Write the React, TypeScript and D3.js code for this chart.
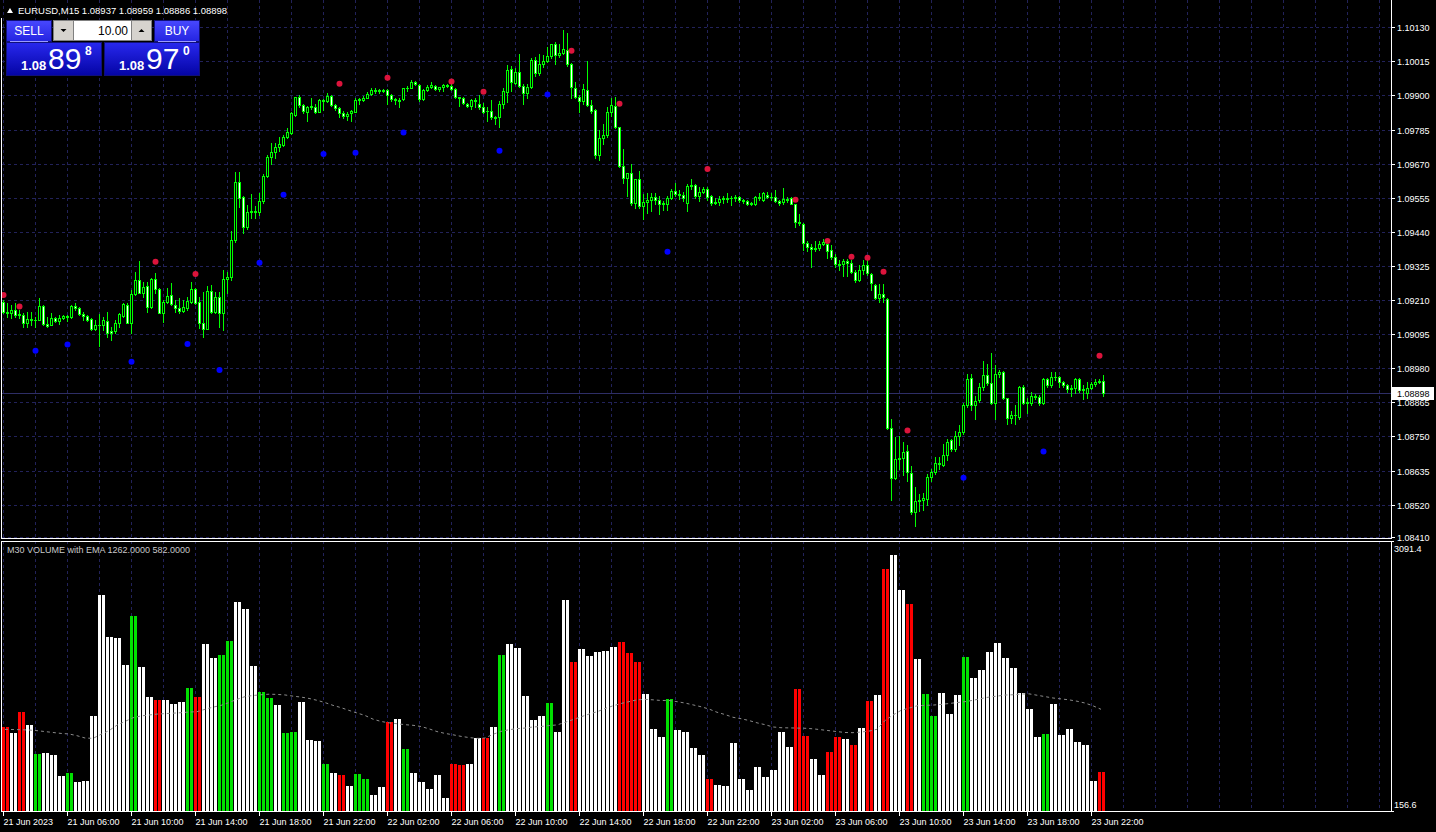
import React, { useRef, useEffect } from "react";
import * as d3 from "d3";

const W = 1436;
const H = 832;
const BASE = 1.08; // candle values are points (0.00001) above 1.08000

const opens = [
  1205, 1171, 1166, 1177, 1160, 1160, 1134, 1146, 1143, 1143, 1190, 1129, 1126, 1149, 1140, 1149, 1156, 1152, 1190, 1182,
  1163, 1158, 1146, 1113, 1126, 1126, 1140, 1106, 1106, 1132, 1156, 1194, 1134, 1231, 1278, 1233, 1258, 1188, 1280, 1246,
  1168, 1204, 1226, 1194, 1185, 1174, 1182, 1205, 1246, 1203, 1134, 1113, 1242, 1169, 1222, 1168, 1280, 1287, 1413, 1607,
  1556, 1458, 1506, 1511, 1508, 1543, 1629, 1694, 1708, 1725, 1733, 1759, 1775, 1834, 1894, 1868, 1846, 1860, 1860, 1846,
  1884, 1880, 1898, 1868, 1857, 1842, 1832, 1840, 1846, 1885, 1885, 1893, 1905, 1917, 1916, 1915, 1918, 1900, 1887, 1885,
  1887, 1924, 1926, 1944, 1935, 1888, 1918, 1930, 1933, 1923, 1928, 1935, 1932, 1922, 1894, 1893, 1873, 1866, 1884, 1873,
  1860, 1848, 1848, 1828, 1826, 1873, 1913, 1988, 1943, 1978, 1933, 1907, 1930, 2021, 1975, 2005, 2017, 2033, 2072, 2035,
  2042, 2055, 2005, 1925, 1894, 1882, 1918, 1868, 1851, 1699, 1755, 1768, 1845, 1865, 1793, 1662, 1623, 1640, 1537, 1617,
  1528, 1541, 1546, 1556, 1549, 1533, 1535, 1553, 1578, 1567, 1565, 1539, 1595, 1597, 1562, 1575, 1584, 1561, 1540, 1540,
  1551, 1550, 1554, 1553, 1556, 1548, 1545, 1537, 1533, 1558, 1548, 1565, 1557, 1556, 1545, 1540, 1552, 1553, 1533, 1475,
  1468, 1404, 1390, 1383, 1387, 1399, 1400, 1380, 1357, 1330, 1333, 1342, 1334, 1306, 1278, 1310, 1330, 1297, 1260, 1216,
  1232, 1214, 778, 609, 673, 678, 702, 626, 496, 534, 536, 538, 612, 631, 661, 654, 688, 738, 707, 752,
  766, 856, 946, 857, 873, 916, 957, 929, 864, 960, 966, 879, 811, 822, 817, 918, 864, 864, 887, 884,
  862, 943, 924, 949, 950, 933, 925, 910, 915, 943, 907, 895, 912, 927, 935, 937,
];
const highs = [
  1210, 1199, 1194, 1199, 1175, 1165, 1171, 1171, 1154, 1216, 1192, 1154, 1165, 1154, 1160, 1160, 1160, 1194, 1199, 1186,
  1171, 1160, 1149, 1143, 1163, 1154, 1171, 1120, 1143, 1165, 1199, 1199, 1244, 1306, 1342, 1272, 1272, 1283, 1300, 1250,
  1210, 1250, 1267, 1211, 1216, 1210, 1222, 1272, 1250, 1222, 1238, 1258, 1261, 1238, 1238, 1312, 1306, 1444, 1641, 1641,
  1560, 1531, 1568, 1526, 1570, 1636, 1700, 1740, 1740, 1760, 1766, 1792, 1845, 1896, 1900, 1870, 1866, 1891, 1870, 1889,
  1889, 1908, 1900, 1873, 1860, 1848, 1843, 1852, 1890, 1890, 1897, 1912, 1925, 1924, 1922, 1922, 1922, 1905, 1892, 1890,
  1926, 1933, 1952, 1950, 1938, 1922, 1935, 1946, 1935, 1930, 1940, 1938, 1945, 1924, 1895, 1894, 1876, 1887, 1890, 1902,
  1875, 1860, 1885, 1832, 1880, 1925, 2003, 1998, 1992, 2040, 1940, 1940, 2025, 2030, 2040, 2037, 2063, 2075, 2080, 2073,
  2121, 2110, 2010, 1945, 1900, 1940, 2015, 1885, 1855, 1782, 1805, 1860, 1890, 1895, 1795, 1720, 1640, 1668, 1620, 1645,
  1568, 1570, 1570, 1570, 1560, 1545, 1560, 1585, 1605, 1580, 1575, 1600, 1618, 1600, 1590, 1590, 1590, 1565, 1555, 1560,
  1560, 1570, 1562, 1566, 1562, 1550, 1548, 1540, 1560, 1570, 1575, 1575, 1570, 1580, 1548, 1588, 1556, 1556, 1535, 1500,
  1470, 1410, 1400, 1410, 1410, 1415, 1408, 1395, 1365, 1345, 1348, 1350, 1345, 1310, 1330, 1345, 1345, 1300, 1265, 1265,
  1263, 1218, 808, 748, 750, 733, 720, 650, 578, 555, 558, 625, 640, 680, 680, 725, 740, 742, 770, 790,
  862, 960, 960, 885, 930, 1003, 995, 1030, 990, 975, 970, 880, 835, 855, 920, 925, 880, 900, 893, 890,
  947, 948, 967, 967, 955, 936, 928, 922, 947, 948, 925, 935, 935, 945, 945, 959,
];
const lows = [
  1165, 1154, 1149, 1154, 1150, 1118, 1120, 1126, 1120, 1143, 1126, 1120, 1126, 1135, 1129, 1145, 1140, 1148, 1177, 1160,
  1143, 1140, 1109, 1109, 1055, 1109, 1087, 1076, 1098, 1120, 1154, 1132, 1098, 1227, 1233, 1222, 1171, 1182, 1233, 1165,
  1137, 1199, 1194, 1171, 1165, 1171, 1177, 1199, 1197, 1115, 1084, 1111, 1165, 1165, 1120, 1109, 1233, 1278, 1405, 1525,
  1435, 1449, 1488, 1486, 1498, 1537, 1625, 1670, 1690, 1712, 1730, 1755, 1770, 1830, 1860, 1842, 1815, 1855, 1840, 1843,
  1850, 1877, 1866, 1852, 1828, 1823, 1818, 1815, 1843, 1870, 1880, 1890, 1903, 1908, 1910, 1912, 1873, 1882, 1870, 1862,
  1885, 1915, 1924, 1935, 1883, 1885, 1915, 1926, 1920, 1915, 1915, 1928, 1918, 1890, 1866, 1870, 1860, 1855, 1860, 1855,
  1840, 1815, 1820, 1804, 1795, 1858, 1877, 1916, 1938, 1930, 1873, 1890, 1925, 1965, 1970, 1995, 2012, 2025, 2005, 2030,
  2040, 2000, 1893, 1890, 1846, 1872, 1865, 1840, 1688, 1682, 1735, 1760, 1830, 1790, 1660, 1605, 1560, 1530, 1520, 1520,
  1485, 1505, 1510, 1535, 1500, 1515, 1515, 1550, 1560, 1550, 1545, 1510, 1585, 1555, 1545, 1570, 1548, 1530, 1535, 1530,
  1538, 1540, 1530, 1545, 1540, 1536, 1530, 1530, 1530, 1548, 1545, 1555, 1548, 1542, 1532, 1535, 1540, 1533, 1458, 1462,
  1378, 1375, 1322, 1375, 1380, 1395, 1352, 1350, 1320, 1310, 1292, 1292, 1300, 1270, 1275, 1298, 1295, 1245, 1212, 1205,
  1205, 775, 536, 605, 640, 620, 600, 490, 448, 500, 503, 518, 600, 625, 640, 650, 670, 700, 700, 720,
  760, 850, 840, 810, 865, 908, 925, 860, 810, 950, 875, 793, 795, 793, 810, 860, 830, 855, 878, 856,
  860, 918, 918, 940, 918, 918, 900, 888, 895, 900, 877, 880, 910, 920, 930, 886,
];
const closes = [
  1171, 1166, 1177, 1160, 1163, 1134, 1146, 1143, 1144, 1190, 1129, 1123, 1149, 1140, 1149, 1156, 1152, 1190, 1182, 1163,
  1156, 1143, 1111, 1126, 1126, 1143, 1100, 1098, 1132, 1162, 1197, 1134, 1231, 1278, 1233, 1253, 1188, 1280, 1246, 1168,
  1204, 1224, 1196, 1185, 1174, 1188, 1208, 1246, 1199, 1134, 1113, 1242, 1169, 1219, 1168, 1280, 1287, 1413, 1607, 1553,
  1455, 1506, 1511, 1508, 1543, 1629, 1694, 1708, 1725, 1735, 1759, 1778, 1840, 1894, 1868, 1849, 1860, 1864, 1846, 1884,
  1880, 1898, 1868, 1857, 1842, 1832, 1839, 1848, 1885, 1888, 1893, 1905, 1917, 1916, 1917, 1918, 1900, 1887, 1885, 1880,
  1924, 1926, 1944, 1938, 1888, 1918, 1930, 1935, 1923, 1927, 1935, 1932, 1922, 1894, 1893, 1875, 1866, 1884, 1880, 1860,
  1845, 1848, 1828, 1825, 1873, 1916, 1986, 1946, 1978, 1933, 1907, 1930, 2021, 1975, 2005, 2017, 2033, 2072, 2035, 2042,
  2058, 2005, 1928, 1894, 1880, 1922, 1868, 1849, 1699, 1755, 1768, 1845, 1868, 1793, 1662, 1623, 1637, 1537, 1617, 1528,
  1541, 1546, 1556, 1549, 1533, 1536, 1553, 1578, 1567, 1565, 1554, 1595, 1597, 1562, 1575, 1584, 1559, 1536, 1539, 1550,
  1554, 1554, 1555, 1556, 1548, 1545, 1535, 1533, 1558, 1553, 1570, 1557, 1556, 1545, 1538, 1552, 1548, 1535, 1475, 1470,
  1404, 1390, 1383, 1387, 1399, 1405, 1377, 1357, 1331, 1333, 1342, 1334, 1306, 1278, 1310, 1328, 1300, 1267, 1216, 1232,
  1222, 778, 609, 673, 678, 698, 629, 496, 534, 536, 541, 612, 629, 661, 656, 688, 733, 707, 752, 764,
  856, 944, 857, 868, 916, 957, 929, 864, 960, 966, 879, 811, 822, 822, 918, 864, 867, 887, 884, 862,
  943, 924, 949, 950, 933, 925, 910, 915, 943, 907, 911, 912, 927, 935, 938, 898,
];

// M30 dots (bar index on the M15 chart, price in points above 1.08000)
const redDotBars = [0, 4, 38, 48, 84, 96, 112, 120, 142, 154, 176, 198, 206, 212, 216, 220, 226, 274];
const redDotPts = [1227, 1188, 1339, 1298, 1940, 1960, 1947, 1913, 2051, 1872, 1652, 1548, 1409, 1356, 1353, 1306, 770, 1022];
const blueDotBars = [8, 16, 32, 46, 54, 64, 70, 80, 88, 100, 124, 136, 166, 240, 260];
const blueDotPts = [1039, 1060, 1002, 1062, 974, 1336, 1565, 1703, 1707, 1775, 1714, 1903, 1373, 611, 699];

const priceTicks = [
  1.1013, 1.10015, 1.099, 1.09785, 1.0967, 1.09555, 1.0944, 1.09325, 1.0921, 1.09095, 1.0898, 1.08865, 1.0875,
  1.08635, 1.0852, 1.0841,
];
const timeLabels = [
  "21 Jun 2023", "21 Jun 06:00", "21 Jun 10:00", "21 Jun 14:00", "21 Jun 18:00", "21 Jun 22:00",
  "22 Jun 02:00", "22 Jun 06:00", "22 Jun 10:00", "22 Jun 14:00", "22 Jun 18:00", "22 Jun 22:00",
  "23 Jun 02:00", "23 Jun 06:00", "23 Jun 10:00", "23 Jun 14:00", "23 Jun 18:00", "23 Jun 22:00",
];

// M30 volume, one value per pair of M15 bars
const volumes = [
  1066, 1008, 1233, 1091, 776, 787, 765, 537, 570, 472, 483, 1189, 2504, 2048, 2037, 1743, 2276, 1722, 1396, 1363,
  1363, 1320, 1341, 1493, 1396, 1972, 1819, 1852, 2004, 2428, 2352, 1733, 1450, 1385, 1309, 1004, 1015, 1341, 928, 917,
  667, 570, 548, 428, 559, 504, 330, 417, 1124, 1157, 830, 570, 472, 396, 548, 298, 667, 657, 667, 950,
  950, 1070, 1852, 1972, 1928, 1406, 1146, 1189, 1327, 1015, 2450, 1776, 1917, 1841, 1885, 1896, 1939, 1993, 1874, 1776,
  1428, 1048, 961, 1374, 1037, 1015, 841, 765, 504, 439, 428, 896, 504, 385, 635, 526, 602, 1015, 852, 1483,
  972, 722, 548, 798, 961, 939, 874, 1059, 1352, 1417, 2787, 2939, 2559, 2406, 1809, 1428, 1189, 1439, 1211, 1417,
  1830, 1602, 1689, 1885, 1983, 1819, 1711, 1439, 1265, 961, 993, 1320, 982, 1048, 907, 874, 483, 582,
];
const volKinds = (
  "rwrwgwwwgw" + "wwwwwwgwwr" + "wwwgrwwggw" + "wwggwggwww" + "gwrwggwwrw" + "gwwwwwrrww" + "rwgwwwwwgw" +
  "wrwwwwwrrr" + "wwwgwwwwrw" + "wwwwwwwwwr" + "rwwrrwrwrw" + "rwwrwggwww" + "gwwwwwwwww" + "gwwwwwwr"
).split("");
const volEma = [
  1044, 1042, 1040, 1037, 1030, 1020, 1010, 1000, 994, 975, 950, 946, 990, 1030, 1090, 1130, 1170, 1190, 1200, 1210,
  1215, 1220, 1225, 1232, 1236, 1262, 1285, 1305, 1335, 1370, 1400, 1412, 1420, 1426, 1424, 1418, 1405, 1395, 1380, 1360,
  1335, 1305, 1280, 1250, 1222, 1195, 1155, 1130, 1115, 1105, 1095, 1088, 1075, 1050, 1020, 1000, 985, 968, 955, 946,
  950, 990, 1022, 1040, 1052, 1058, 1070, 1075, 1085, 1092, 1120, 1150, 1180, 1210, 1235, 1270, 1300, 1325, 1345, 1365,
  1370, 1365, 1358, 1358, 1345, 1330, 1310, 1290, 1265, 1230, 1205, 1175, 1160, 1140, 1115, 1095, 1070, 1062, 1060, 1058,
  1056, 1050, 1040, 1030, 1020, 1010, 1008, 1015, 1025, 1045, 1140, 1200, 1250, 1275, 1300, 1305, 1308, 1315, 1325, 1335,
  1345, 1360, 1378, 1395, 1405, 1417, 1420, 1428, 1430, 1415, 1400, 1385, 1375, 1365, 1350, 1330, 1300, 1262,
];

const FONT = "'Liberation Sans', Arial, sans-serif";
const GREEN = "#00ff00";
const GRID = "#22225a";

export default function App() {
  const ref = useRef<SVGSVGElement>(null);

  useEffect(() => {
    const svg = d3.select(ref.current);
    svg.selectAll("*").remove();

    const right = 1391;
    const pTop = 0, pBot = 538, vTop = 541, vBot = 811;

    const x = d3.scaleLinear().domain([0, 275]).range([3, 1103]);
    const y = d3.scaleLinear().domain([1.0841, 1.1013]).range([537.3, 27.3]);
    const yv = d3.scaleLinear().domain([156.6, 3091.4]).range([vBot, vTop]);
    const pt = (v: number) => y(BASE + v / 1e5);

    const defs = svg.append("defs");
    const g1 = defs.append("linearGradient").attr("id", "btn").attr("x1", 0).attr("y1", 0).attr("x2", 0).attr("y2", 1);
    g1.append("stop").attr("offset", "0%").attr("stop-color", "#4848ff");
    g1.append("stop").attr("offset", "100%").attr("stop-color", "#2424e0");
    const g2 = defs.append("linearGradient").attr("id", "pbox").attr("x1", 0).attr("y1", 0).attr("x2", 0).attr("y2", 1);
    g2.append("stop").attr("offset", "0%").attr("stop-color", "#2828ee");
    g2.append("stop").attr("offset", "100%").attr("stop-color", "#0404a4");
    defs.append("clipPath").attr("id", "pclip").append("rect").attr("x", 2).attr("y", pTop).attr("width", right - 2).attr("height", pBot - pTop);
    defs.append("clipPath").attr("id", "vclip").append("rect").attr("x", 2).attr("y", vTop).attr("width", right - 2).attr("height", vBot - vTop);

    svg.append("rect").attr("width", W).attr("height", H).attr("fill", "#000");

    // ---------- price panel ----------
    const pg = svg.append("g").attr("clip-path", "url(#pclip)");
    const gridBars = d3.range(0, 44).map((k) => k * 8);
    pg.selectAll("line.vg").data(gridBars).join("line")
      .attr("x1", (d) => x(d) + 0.5).attr("x2", (d) => x(d) + 0.5)
      .attr("y1", pTop).attr("y2", pBot)
      .attr("stroke", GRID).attr("stroke-dasharray", "3,3");
    pg.selectAll("line.hg").data(priceTicks).join("line")
      .attr("x1", 2).attr("x2", right)
      .attr("y1", (d) => Math.round(y(d)) + 0.5).attr("y2", (d) => Math.round(y(d)) + 0.5)
      .attr("stroke", GRID).attr("stroke-dasharray", "3,3");

    const last = BASE + closes[closes.length - 1] / 1e5;
    const yl = Math.round(y(last)) + 0.5;
    pg.append("line").attr("x1", 2).attr("x2", right).attr("y1", yl).attr("y2", yl).attr("stroke", "#2e2e66");

    const candles = d3.range(opens.length);
    const cg = pg.append("g").attr("shape-rendering", "crispEdges");
    cg.selectAll("rect.w").data(candles).join("rect")
      .attr("x", (i) => x(i)).attr("width", 1)
      .attr("y", (i) => Math.round(pt(highs[i])))
      .attr("height", (i) => Math.round(pt(lows[i])) - Math.round(pt(highs[i])) + 1)
      .attr("fill", GREEN);
    const bodyTop = (i: number) => Math.round(pt(Math.max(opens[i], closes[i])));
    const bodyBot = (i: number) => Math.round(pt(Math.min(opens[i], closes[i])));
    cg.selectAll("rect.b").data(candles).join("rect")
      .attr("x", (i) => x(i) - 1).attr("width", 3)
      .attr("y", bodyTop).attr("height", (i) => bodyBot(i) - bodyTop(i) + 1)
      .attr("fill", GREEN);
    cg.selectAll("rect.f").data(candles.filter((i) => bodyBot(i) - bodyTop(i) >= 2)).join("rect")
      .attr("x", (i) => x(i)).attr("width", 1)
      .attr("y", (i) => bodyTop(i) + 1).attr("height", (i) => bodyBot(i) - bodyTop(i) - 1)
      .attr("fill", (i) => (closes[i] >= opens[i] ? "#000" : "#fff"));

    pg.selectAll("circle.r").data(redDotBars).join("circle")
      .attr("cx", (d) => x(d) + 0.5).attr("cy", (d, k) => pt(redDotPts[k])).attr("r", 3).attr("fill", "#dc143c");
    pg.selectAll("circle.bl").data(blueDotBars).join("circle")
      .attr("cx", (d) => x(d) + 0.5).attr("cy", (d, k) => pt(blueDotPts[k])).attr("r", 3).attr("fill", "#0000ff");

    // ---------- volume panel ----------
    const vg = svg.append("g").attr("clip-path", "url(#vclip)");
    vg.selectAll("line.vg").data(gridBars).join("line")
      .attr("x1", (d) => x(d) + 0.5).attr("x2", (d) => x(d) + 0.5)
      .attr("y1", vTop).attr("y2", vBot)
      .attr("stroke", GRID).attr("stroke-dasharray", "3,3");
    const volColor: Record<string, string> = { w: "#ffffff", g: "#00e000", r: "#ff0000" };
    vg.append("g").attr("shape-rendering", "crispEdges")
      .selectAll("rect").data(candles).join("rect")
      .attr("x", (i) => x(i) - 1).attr("width", 3)
      .attr("y", (i) => Math.round(yv(volumes[Math.floor(i / 2)])))
      .attr("height", (i) => vBot - Math.round(yv(volumes[Math.floor(i / 2)])))
      .attr("fill", (i) => volColor[volKinds[Math.floor(i / 2)]]);
    const emaLine = d3.line<number>().x((d, j) => x(2 * j) + 2).y((d) => yv(d));
    vg.append("path").attr("d", emaLine(volEma)).attr("fill", "none")
      .attr("stroke", "#8a8a8a").attr("stroke-dasharray", "3,3");

    // ---------- frames ----------
    const fr = svg.append("g").attr("stroke", "#fff").attr("fill", "none").attr("shape-rendering", "crispEdges");
    fr.append("line").attr("x1", 1.5).attr("x2", 1.5).attr("y1", 18).attr("y2", pBot);
    fr.append("line").attr("x1", right + 0.5).attr("x2", right + 0.5).attr("y1", 0).attr("y2", pBot);
    fr.append("line").attr("x1", 1).attr("x2", right + 1).attr("y1", pBot + 0.5).attr("y2", pBot + 0.5);
    fr.append("rect").attr("x", 1.5).attr("y", vTop + 0.5).attr("width", right - 1).attr("height", vBot - vTop);

    // price axis
    const ax = svg.append("g").attr("font-family", FONT).attr("font-size", 9).attr("fill", "#fff");
    priceTicks.forEach((p) => {
      const yy = Math.round(y(p)) + 0.5;
      ax.append("line").attr("x1", right).attr("x2", right + 4).attr("y1", yy).attr("y2", yy).attr("stroke", "#fff");
      ax.append("text").attr("x", 1397).attr("y", yy + 3.5).text(p.toFixed(5));
    });
    ax.append("rect").attr("x", 1392).attr("y", yl - 6.5).attr("width", 42).attr("height", 13).attr("fill", "#fff");
    ax.append("text").attr("x", 1397).attr("y", yl + 3.5).attr("fill", "#000").text(last.toFixed(5));

    // volume axis
    ax.append("line").attr("x1", right).attr("x2", right + 3).attr("y1", vTop + 0.5).attr("y2", vTop + 0.5).attr("stroke", "#fff");
    ax.append("line").attr("x1", right).attr("x2", right + 3).attr("y1", vBot + 0.5).attr("y2", vBot + 0.5).attr("stroke", "#fff");
    ax.append("text").attr("x", 1394).attr("y", 552).text("3091.4");
    ax.append("text").attr("x", 1394).attr("y", 808).text("156.6");

    // time axis
    timeLabels.forEach((t, k) => {
      const xx = x(k * 16) + 0.5;
      ax.append("line").attr("x1", xx).attr("x2", xx).attr("y1", vBot).attr("y2", vBot + 5).attr("stroke", "#fff");
      ax.append("text").attr("x", xx).attr("y", 825).text(t);
    });

    // titles
    const hd = svg.append("g").attr("font-family", FONT).attr("font-size", 9.5).attr("fill", "#fff");
    hd.append("path").attr("d", "M7,13 L10,8 L13,13 Z").attr("fill", "#fff");
    hd.append("text").attr("x", 18).attr("y", 14)
      .text(`EURUSD,M15  ${(BASE + opens[275] / 1e5).toFixed(5)} ${(BASE + highs[275] / 1e5).toFixed(5)} ${(BASE + lows[275] / 1e5).toFixed(5)} ${last.toFixed(5)}`);
    svg.append("text").attr("x", 7).attr("y", 553).attr("font-family", FONT).attr("font-size", 9).attr("fill", "#c8c8c8")
      .text(`M30 VOLUME with EMA ${volEma[volEma.length - 1].toFixed(4)} ${volumes[volumes.length - 1].toFixed(4)}`);

    // ---------- one-click trading panel ----------
    const tp = svg.append("g").attr("font-family", FONT);
    const button = (bx: number, label: string) => {
      tp.append("rect").attr("x", bx + 0.5).attr("y", 20.5).attr("width", 45).attr("height", 21).attr("fill", "url(#btn)").attr("stroke", "#10107a");
      tp.append("line").attr("x1", bx + 4).attr("x2", bx + 42).attr("y1", 41.5).attr("y2", 41.5).attr("stroke", "#9a9aff");
      tp.append("text").attr("x", bx + 23).attr("y", 35).attr("text-anchor", "middle").attr("font-size", 12).attr("fill", "#fff").text(label);
    };
    button(6, "SELL");
    button(154, "BUY");
    const priceBox = (bx: number, big: string, sup: string) => {
      tp.append("rect").attr("x", bx + 0.5).attr("y", 42.5).attr("width", 95).attr("height", 33).attr("fill", "url(#pbox)").attr("stroke", "#10107a");
      tp.append("text").attr("x", bx + 15).attr("y", 70).attr("font-size", 13).attr("font-weight", "bold").attr("fill", "#fff").text("1.08");
      tp.append("text").attr("x", bx + 42).attr("y", 69).attr("font-size", 30).attr("fill", "#fff").text(big);
      tp.append("text").attr("x", bx + 79).attr("y", 55).attr("font-size", 12).attr("font-weight", "bold").attr("fill", "#fff").text(sup);
    };
    priceBox(6, "89", "8");
    priceBox(104, "97", "0");
    tp.append("rect").attr("x", 53.5).attr("y", 20.5).attr("width", 20).attr("height", 20).attr("fill", "#d6d3ce").attr("stroke", "#808080");
    tp.append("path").attr("d", "M60.5,29 L66.5,29 L63.5,32 Z").attr("fill", "#000");
    tp.append("rect").attr("x", 73.5).attr("y", 20.5).attr("width", 58).attr("height", 20).attr("fill", "#fff").attr("stroke", "#808080");
    tp.append("text").attr("x", 128).attr("y", 35).attr("text-anchor", "end").attr("font-size", 12).attr("fill", "#000").text("10.00");
    tp.append("rect").attr("x", 131.5).attr("y", 20.5).attr("width", 20).attr("height", 20).attr("fill", "#d6d3ce").attr("stroke", "#808080");
    tp.append("path").attr("d", "M138.5,32 L144.5,32 L141.5,29 Z").attr("fill", "#000");
  }, []);

  return (
    <div style={{ position: "fixed", left: 0, top: 0 }}>
      <svg ref={ref} width={W} height={H} style={{ display: "block" }} />
    </div>
  );
}
